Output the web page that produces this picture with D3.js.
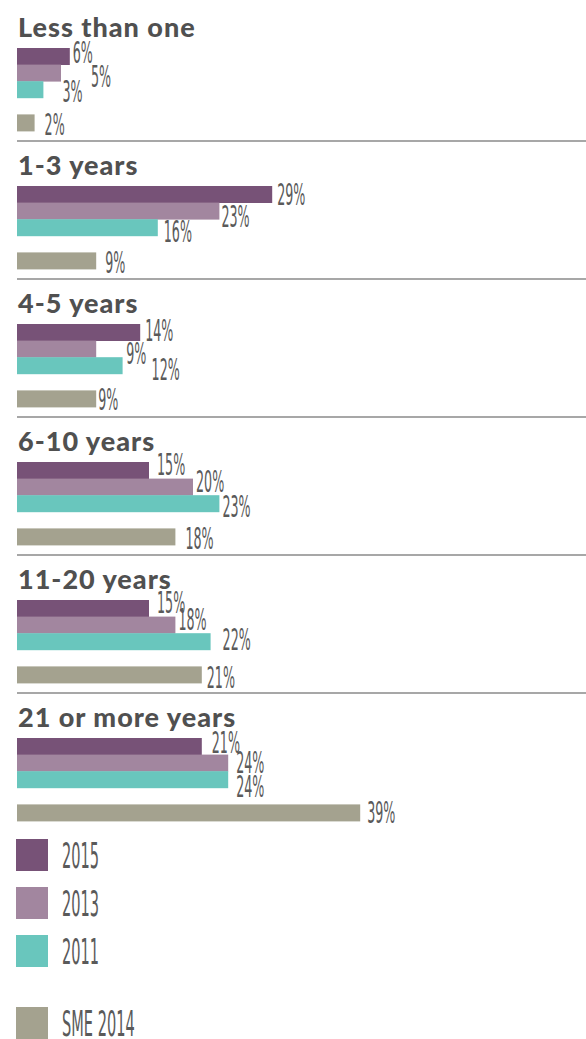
<!DOCTYPE html>
<html lang="en">
	<head>
		<meta charset="utf-8">
		<title>Years in business</title>
		<script src="https://d3js.org/d3.v7.min.js"></script>
		<style type="text/css">
			body { margin: 0; background: #fff; }
			.title { font-family: Lato, "Noto Sans", sans-serif; font-weight: 900; fill: #505050; letter-spacing: 1px; }
			.val, .leg { font-family: "Liberation Sans Narrow", "DejaVu Sans Condensed", sans-serif; fill: #5a5a5a; }
		</style>
	</head>
	<body>
		<script type="text/javascript">

			// data
			const categories = ["Less than one", "1-3 years", "4-5 years", "6-10 years", "11-20 years", "21 or more years"];
			const seriesNames = ["2015", "2013", "2011", "SME 2014"];
			const v2015 = [6, 29, 14, 15, 15, 21];
			const v2013 = [5, 23, 9, 20, 18, 24];
			const v2011 = [3, 16, 12, 23, 22, 24];
			const sme2014 = [2, 9, 9, 18, 21, 39];

			const colors = ["#775277", "#a2869f", "#69c6bd", "#a4a28f"];

			// label nudges [dx, dy] from the bar end / bar bottom (layout only)
			const nudge = [
				[[3, -2], [30, 6], [19, 4], [10, 4]],
				[[5, 2], [2, 8], [6, 6], [9, 4]],
				[[5, 0], [30, 7], [29, 6], [2, 3]],
				[[8, -4], [3, -3], [3, 5], [10, 4]],
				[[8, -4], [3, -3], [12, 0], [5, 5]],
				[[10, -2], [8, 2], [8, 9], [7, 2]]
			];

			const w = 586;
			const h = 1039;
			const left = 17;
			const groupStep = 138;
			const barH = 16.6;
			const barOffsets = [0, barH, barH * 2, barH * 4];

			const series = [v2015, v2013, v2011, sme2014];

			const xScale = d3.scaleLinear()
				.domain([0, 40])
				.range([left, left + 8.8 * 40]);

			const svg = d3.select("body")
				.append("svg")
				.attr("width", w)
				.attr("height", h);

			const groups = svg.selectAll("g.grp")
				.data(categories)
				.enter()
				.append("g")
				.attr("class", "grp")
				.attr("transform", (d, i) => "translate(0," + (i * groupStep) + ")");

			groups.append("text")
				.attr("class", "title")
				.attr("x", 18)
				.attr("y", 37)
				.attr("font-size", 27)
				.text(d => d);

			groups.each(function(cat, gi) {
				const g = d3.select(this);
				const rows = series.map((s, si) => ({ v: s[gi], si: si }));

				g.selectAll("rect")
					.data(rows)
					.enter()
					.append("rect")
					.attr("x", xScale(0))
					.attr("y", d => 48 + barOffsets[d.si])
					.attr("width", d => xScale(d.v) - xScale(0))
					.attr("height", barH + 0.4)
					.attr("fill", d => colors[d.si]);

				g.selectAll("text.val")
					.data(rows)
					.enter()
					.append("text")
					.attr("class", "val")
					.attr("font-size", 30)
					.attr("transform", d => {
						const n = nudge[gi][d.si];
						const x = xScale(d.v) + n[0];
						const y = 48 + barOffsets[d.si] + barH + n[1];
						return "translate(" + x + "," + y + ") scale(0.47,1)";
					})
					.text(d => d.v + "%");

				if (gi < categories.length - 1) {
					g.append("line")
						.attr("x1", 17)
						.attr("x2", w)
						.attr("y1", 141)
						.attr("y2", 141)
						.attr("stroke", "#8a8a8a")
						.attr("stroke-width", 1.6);
				}
			});

			// legend
			const legY = [839, 887, 935, 1007];
			const legend = svg.selectAll("g.leg")
				.data(seriesNames)
				.enter()
				.append("g")
				.attr("transform", (d, i) => "translate(16," + legY[i] + ")");

			legend.append("rect")
				.attr("width", 32)
				.attr("height", 32)
				.attr("fill", (d, i) => colors[i]);

			legend.append("text")
				.attr("class", "leg")
				.attr("font-size", 36)
				.attr("transform", "translate(46,29) scale(0.45,1)")
				.text(d => d);

		</script>
	</body>
</html>
